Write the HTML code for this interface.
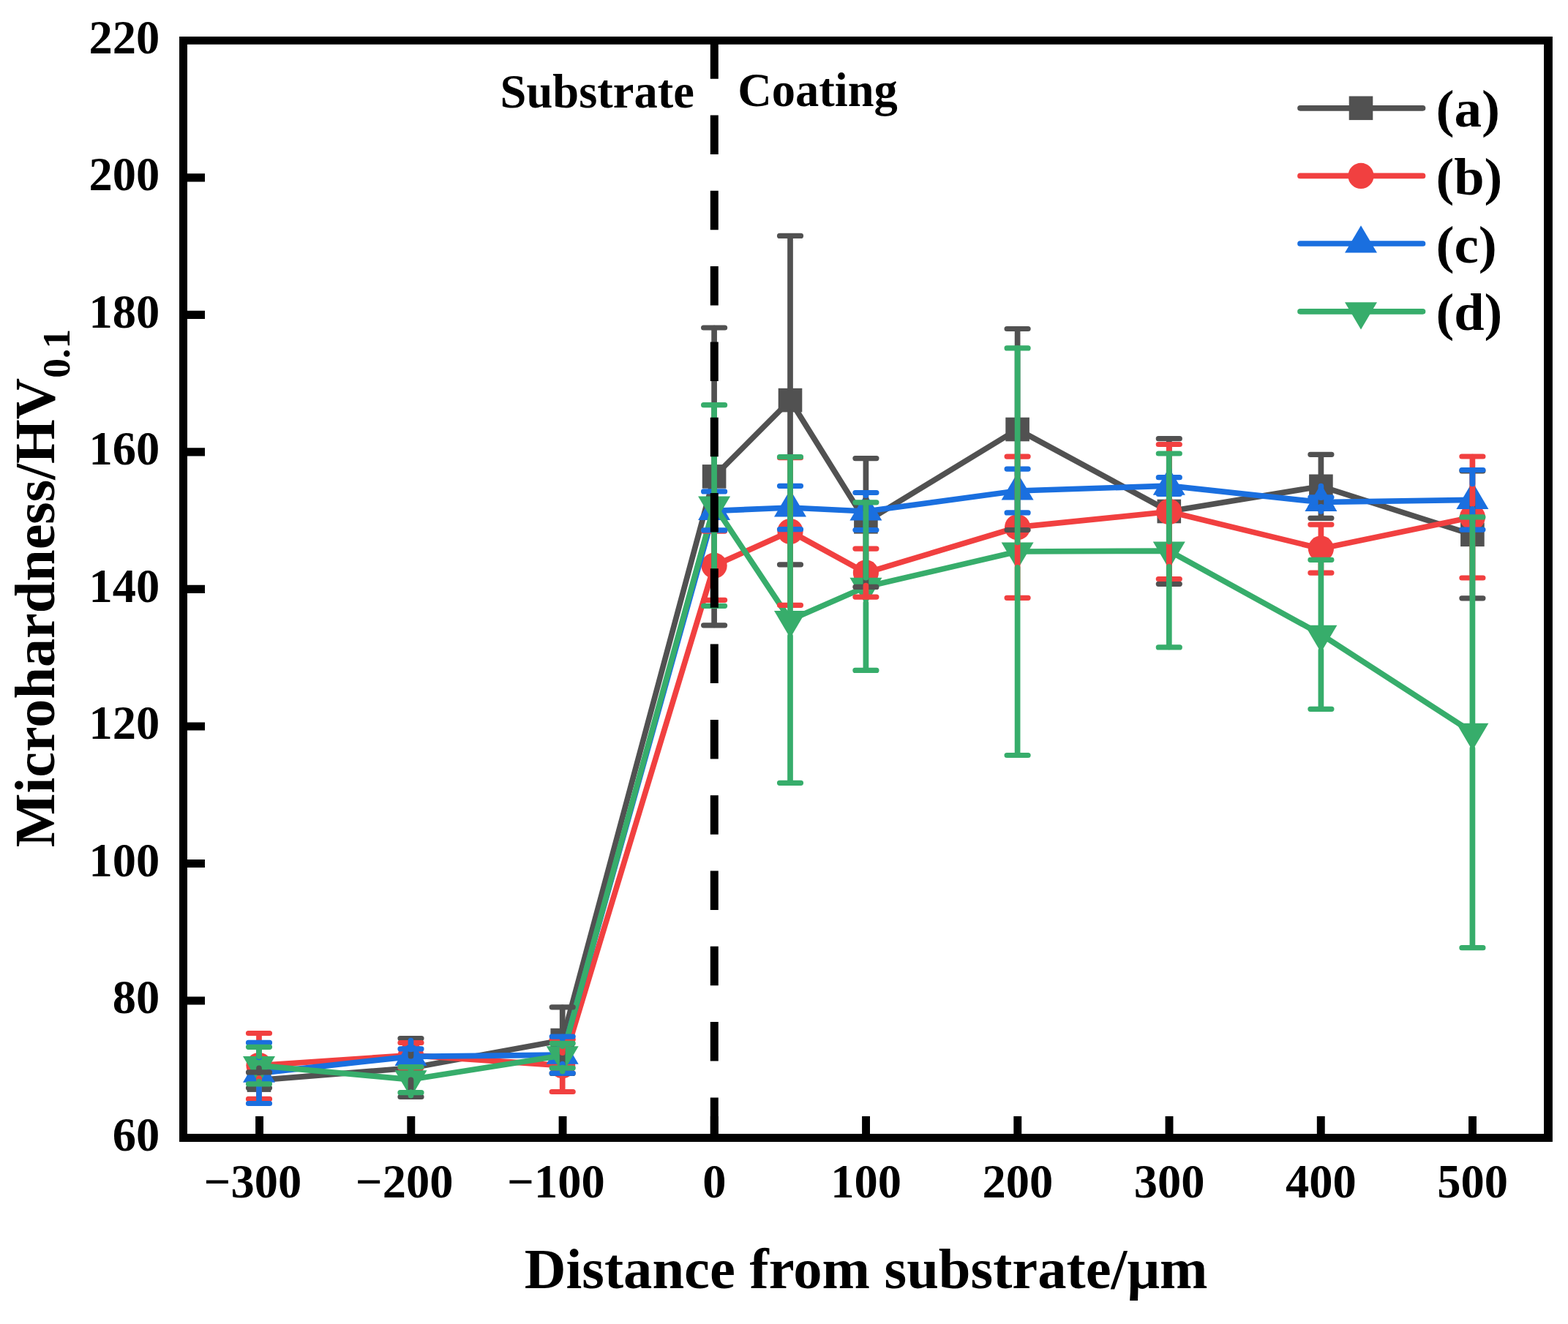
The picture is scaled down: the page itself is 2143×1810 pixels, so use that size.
<!DOCTYPE html>
<html lang="en"><head><meta charset="utf-8"><title>Microhardness vs distance from substrate</title>
<style>
html,body{margin:0;padding:0;background:#fff;}
body{width:2143px;height:1810px;overflow:hidden;}
svg{display:block;}
text{font-family:"Liberation Serif",serif;font-weight:700;fill:#000;}
.tk{font-size:64.5px;}
.ti{font-size:78.6px;}
.lg{font-size:72px;}
</style></head><body>
<svg width="2143" height="1810" viewBox="0 0 2143 1810">
<rect x="0" y="0" width="2143" height="1810" fill="#fff"/>
<g id="series" fill="none" stroke-linejoin="round" stroke-linecap="round">
<polyline points="354,1476.6 561.5,1460 768.7,1422.1 976.1,651.4 1080,547.1 1183.4,713.3 1390.6,587 1597.8,699 1805.4,664.8 2012.4,730.8" stroke="#515151" stroke-width="7.7"/>
<rect x="337.7" y="1460.3" width="32.6" height="32.6" fill="#515151"/>
<rect x="545.2" y="1443.7" width="32.6" height="32.6" fill="#515151"/>
<rect x="752.4" y="1405.8" width="32.6" height="32.6" fill="#515151"/>
<rect x="959.8" y="635.1" width="32.6" height="32.6" fill="#515151"/>
<rect x="1063.7" y="530.8" width="32.6" height="32.6" fill="#515151"/>
<rect x="1167.1" y="697" width="32.6" height="32.6" fill="#515151"/>
<rect x="1374.3" y="570.7" width="32.6" height="32.6" fill="#515151"/>
<rect x="1581.5" y="682.7" width="32.6" height="32.6" fill="#515151"/>
<rect x="1789.1" y="648.5" width="32.6" height="32.6" fill="#515151"/>
<rect x="1996.1" y="714.5" width="32.6" height="32.6" fill="#515151"/>
<polyline points="354,1456.5 561.5,1442.6 768.7,1456.8 976.1,773.2 1080,726.5 1183.4,783.1 1390.6,720.7 1597.8,699.5 1805.4,750.1 2012.4,707" stroke="#F14040" stroke-width="7.7"/>
<circle cx="354" cy="1456.5" r="17.6" fill="#F14040"/>
<circle cx="561.5" cy="1442.6" r="17.6" fill="#F14040"/>
<circle cx="768.7" cy="1456.8" r="17.6" fill="#F14040"/>
<circle cx="976.1" cy="773.2" r="17.6" fill="#F14040"/>
<circle cx="1080" cy="726.5" r="17.6" fill="#F14040"/>
<circle cx="1183.4" cy="783.1" r="17.6" fill="#F14040"/>
<circle cx="1390.6" cy="720.7" r="17.6" fill="#F14040"/>
<circle cx="1597.8" cy="699.5" r="17.6" fill="#F14040"/>
<circle cx="1805.4" cy="750.1" r="17.6" fill="#F14040"/>
<circle cx="2012.4" cy="707" r="17.6" fill="#F14040"/>
<polyline points="354,1467.2 561.5,1444.3 768.7,1442.1 976.1,698.4 1080,694 1183.4,699 1390.6,671 1597.8,664.1 1805.4,686.5 2012.4,683.3" stroke="#1A6FDF" stroke-width="7.7"/>
<polygon points="354,1442.4 376,1479.8 332,1479.8" fill="#1A6FDF"/>
<polygon points="561.5,1419.5 583.5,1456.9 539.5,1456.9" fill="#1A6FDF"/>
<polygon points="768.7,1417.3 790.7,1454.7 746.7,1454.7" fill="#1A6FDF"/>
<polygon points="976.1,673.6 998.1,711 954.1,711" fill="#1A6FDF"/>
<polygon points="1080,669.2 1102,706.6 1058,706.6" fill="#1A6FDF"/>
<polygon points="1183.4,674.2 1205.4,711.6 1161.4,711.6" fill="#1A6FDF"/>
<polygon points="1390.6,646.2 1412.6,683.6 1368.6,683.6" fill="#1A6FDF"/>
<polygon points="1597.8,639.3 1619.8,676.7 1575.8,676.7" fill="#1A6FDF"/>
<polygon points="1805.4,661.7 1827.4,699.1 1783.4,699.1" fill="#1A6FDF"/>
<polygon points="2012.4,658.5 2034.4,695.9 1990.4,695.9" fill="#1A6FDF"/>
<polyline points="354,1456.7 561.5,1475.8 768.7,1442.8 976.1,691 1080,847.5 1183.4,802.3 1390.6,754 1597.8,753.1 1805.4,867.3 2012.4,1001.3" stroke="#37AD6B" stroke-width="7.7"/>
<polygon points="354,1481.5 376,1444.1 332,1444.1" fill="#37AD6B"/>
<polygon points="561.5,1500.6 583.5,1463.2 539.5,1463.2" fill="#37AD6B"/>
<polygon points="768.7,1467.6 790.7,1430.2 746.7,1430.2" fill="#37AD6B"/>
<polygon points="976.1,715.8 998.1,678.4 954.1,678.4" fill="#37AD6B"/>
<polygon points="1080,872.3 1102,834.9 1058,834.9" fill="#37AD6B"/>
<polygon points="1183.4,827.1 1205.4,789.7 1161.4,789.7" fill="#37AD6B"/>
<polygon points="1390.6,778.8 1412.6,741.4 1368.6,741.4" fill="#37AD6B"/>
<polygon points="1597.8,777.9 1619.8,740.5 1575.8,740.5" fill="#37AD6B"/>
<polygon points="1805.4,892.1 1827.4,854.7 1783.4,854.7" fill="#37AD6B"/>
<polygon points="2012.4,1026.1 2034.4,988.7 1990.4,988.7" fill="#37AD6B"/>
</g>
<g id="errors" fill="none" stroke-linecap="round">
<path d="M354 1466.4V1460.3M354 1492.9V1486.8M561.5 1420.1V1443.7M561.5 1476.3V1499M768.7 1377.3V1405.8M768.7 1438.4V1466.9M976.1 448.5V635.1M976.1 667.7V854.3M1080 322.9V530.8M1080 563.4V771.3M1183.4 627.1V697M1183.4 729.6V801.9M1390.6 450V570.7M1390.6 603.3V724M1597.8 600.2V682.7M1597.8 715.3V797.8M1805.4 621.8V648.5M1805.4 681.1V707.8M2012.4 644.3V714.5M2012.4 747.1V817.3" stroke="#515151" stroke-width="7.7"/>
<path d="M339.5 1465.9H368.5M339.5 1487.3H368.5M547 1419.6H576M547 1499.5H576M754.2 1376.8H783.2M754.2 1467.4H783.2M961.6 448H990.6M961.6 854.8H990.6M1065.5 322.4H1094.5M1065.5 771.8H1094.5M1168.9 626.6H1197.9M1168.9 802.4H1197.9M1376.1 449.5H1405.1M1376.1 724.5H1405.1M1583.3 599.7H1612.3M1583.3 798.3H1612.3M1790.9 621.3H1819.9M1790.9 708.3H1819.9M1997.9 643.8H2026.9M1997.9 817.8H2026.9" stroke="#515151" stroke-width="7.2"/>
<path d="M354 1413V1438.9M354 1474.1V1501.9M561.5 1426V1425M561.5 1460.2V1459.2M768.7 1421.6V1439.2M768.7 1474.4V1492M976.1 726.6V755.6M976.1 790.8V819.8M1080 626.2V708.9M1080 744.1V826.8M1183.4 750.6V765.5M1183.4 800.7V815.6M1390.6 624.6V703.1M1390.6 738.3V816.8M1597.8 608V681.9M1597.8 717.1V791M1805.4 717.6V732.5M1805.4 767.7V782.6M2012.4 624.5V689.4M2012.4 724.6V789.5" stroke="#F14040" stroke-width="7.7"/>
<path d="M339.5 1412.5H368.5M339.5 1502.4H368.5M547 1425.5H576M547 1459.7H576M754.2 1421.1H783.2M754.2 1492.5H783.2M961.6 726.1H990.6M961.6 820.3H990.6M1065.5 625.7H1094.5M1065.5 827.3H1094.5M1168.9 750.1H1197.9M1168.9 816.1H1197.9M1376.1 624.1H1405.1M1376.1 817.3H1405.1M1583.3 607.5H1612.3M1583.3 791.5H1612.3M1790.9 717.1H1819.9M1790.9 783.1H1819.9M1997.9 624H2026.9M1997.9 790H2026.9" stroke="#F14040" stroke-width="7.2"/>
<path d="M354 1425.9V1445.4M354 1479.8V1508M561.5 1434.4V1422.5M561.5 1456.9V1454.2M768.7 1417.6V1420.3M768.7 1454.7V1466.6M976.1 672.4V676.6M976.1 711V724.4M1080 664.8V672.2M1080 706.6V723.2M1183.4 674V677.2M1183.4 711.6V724M1390.6 641.6V649.2M1390.6 683.6V700.4M1597.8 653.2V642.3M1597.8 676.7V675M1805.4 680.25V664.7M1805.4 699.1V692.75M2012.4 643V661.5M2012.4 695.9V723.6" stroke="#1A6FDF" stroke-width="7.7"/>
<path d="M339.5 1425.4H368.5M339.5 1508.5H368.5M547 1433.9H576M547 1454.7H576M754.2 1417.1H783.2M754.2 1467.1H783.2M961.6 671.9H990.6M961.6 724.9H990.6M1065.5 664.3H1094.5M1065.5 723.7H1094.5M1168.9 673.5H1197.9M1168.9 724.5H1197.9M1376.1 641.1H1405.1M1376.1 700.9H1405.1M1583.3 652.7H1612.3M1583.3 675.5H1612.3M1790.9 679.75H1819.9M1790.9 693.25H1819.9M1997.9 642.5H2026.9M1997.9 724.1H2026.9" stroke="#1A6FDF" stroke-width="7.2"/>
<path d="M354 1431.8V1444.1M354 1478.5V1481.3M561.5 1459.1V1463.2M561.5 1497.6V1493.2M768.7 1426.8V1430.2M768.7 1464.6V1459.5M976.1 554.2V678.4M976.1 712.8V827.8M1080 625.2V834.9M1080 869.3V1069.8M1183.4 687.3V789.7M1183.4 824.1V915.9M1390.6 476.4V741.4M1390.6 775.8V1032M1597.8 620.5V740.5M1597.8 774.9V884.4M1805.4 765.8V854.7M1805.4 889.1V968.8M2012.4 707.4V988.7M2012.4 1023.1V1295.2" stroke="#37AD6B" stroke-width="7.7"/>
<path d="M339.5 1431.3H368.5M339.5 1481.8H368.5M547 1458.6H576M547 1493.7H576M754.2 1426.3H783.2M754.2 1460H783.2M961.6 553.7H990.6M961.6 828.3H990.6M1065.5 624.7H1094.5M1065.5 1070.3H1094.5M1168.9 686.8H1197.9M1168.9 916.4H1197.9M1376.1 475.9H1405.1M1376.1 1032.5H1405.1M1583.3 620H1612.3M1583.3 884.9H1612.3M1790.9 765.3H1819.9M1790.9 969.3H1819.9M1997.9 706.9H2026.9M1997.9 1295.7H2026.9" stroke="#37AD6B" stroke-width="7.2"/>
</g>
<line x1="976.3" y1="54.2" x2="976.3" y2="1555.5" stroke="#000" stroke-width="11" stroke-dasharray="53.5 49.8"/>
<path fill="#000" fill-rule="evenodd" d="M245.05 49.9H2121.9V1561H245.05ZM256 60.8V1550H2110V60.8Z"/>
<g id="ticks" stroke="#000" fill="none">
<path stroke-width="11.1" d="M250 1367.98H280M250 1180.46H280M250 992.94H280M250 805.42H280M250 617.91H280M250 430.39H280M250 242.87H280"/>
<path stroke-width="10.9" d="M354.58 1556V1526.1M561.82 1556V1526.1M769.06 1556V1526.1M976.3 1556V1526.1M1183.54 1556V1526.1M1390.78 1556V1526.1M1598.02 1556V1526.1M1805.26 1556V1526.1M2012.5 1556V1526.1"/>
</g>
<g id="ylabels" class="tk" text-anchor="end">
<text class="tk" x="218.2" y="1572.8">60</text>
<text class="tk" x="218.2" y="1385.28">80</text>
<text class="tk" x="218.2" y="1197.76">100</text>
<text class="tk" x="218.2" y="1010.24">120</text>
<text class="tk" x="218.2" y="822.72">140</text>
<text class="tk" x="218.2" y="635.21">160</text>
<text class="tk" x="218.2" y="447.69">180</text>
<text class="tk" x="218.2" y="260.17">200</text>
<text class="tk" x="218.2" y="72.65">220</text>
</g>
<g id="xlabels" class="tk" text-anchor="middle">
<text class="tk" x="345.58" y="1636.6">−300</text>
<text class="tk" x="552.82" y="1636.6">−200</text>
<text class="tk" x="760.06" y="1636.6">−100</text>
<text class="tk" x="976.3" y="1636.6">0</text>
<text class="tk" x="1183.54" y="1636.6">100</text>
<text class="tk" x="1390.78" y="1636.6">200</text>
<text class="tk" x="1598.02" y="1636.6">300</text>
<text class="tk" x="1805.26" y="1636.6">400</text>
<text class="tk" x="2012.5" y="1636.6">500</text>
</g>
<text class="tk" x="683.6" y="146.8">Substrate</text>
<text class="tk" x="1008.2" y="145">Coating</text>
<text class="ti" x="1183.6" y="1761" text-anchor="middle">Distance from substrate/μm</text>
<text class="ti" transform="translate(74.3,1158.2) rotate(-90)" style="font-size:78.2px">Microhardness/HV<tspan style="font-size:53.6px" dy="20.3">0.1</tspan></text>
<g id="legend">
<line x1="1777" y1="147.8" x2="1944.5" y2="147.8" stroke="#515151" stroke-width="7.7" stroke-linecap="round"/>
<rect x="1843.7" y="131.5" width="32.6" height="32.6" fill="#515151"/>
<text class="lg" x="1962.4" y="173.4" textLength="87.6" lengthAdjust="spacingAndGlyphs">(a)</text>
<line x1="1777" y1="240.4" x2="1944.5" y2="240.4" stroke="#F14040" stroke-width="7.7" stroke-linecap="round"/>
<circle cx="1860" cy="240.4" r="17.6" fill="#F14040"/>
<text class="lg" x="1962.4" y="266" textLength="90.8" lengthAdjust="spacingAndGlyphs">(b)</text>
<line x1="1777" y1="333" x2="1944.5" y2="333" stroke="#1A6FDF" stroke-width="7.7" stroke-linecap="round"/>
<polygon points="1860,308.2 1882,345.6 1838,345.6" fill="#1A6FDF"/>
<text class="lg" x="1962.4" y="358.6" textLength="83.4" lengthAdjust="spacingAndGlyphs">(c)</text>
<line x1="1777" y1="425.8" x2="1944.5" y2="425.8" stroke="#37AD6B" stroke-width="7.7" stroke-linecap="round"/>
<polygon points="1860,450.6 1882,413.2 1838,413.2" fill="#37AD6B"/>
<text class="lg" x="1962.4" y="451.4" textLength="90.8" lengthAdjust="spacingAndGlyphs">(d)</text>
</g>
</svg>
</body></html>
